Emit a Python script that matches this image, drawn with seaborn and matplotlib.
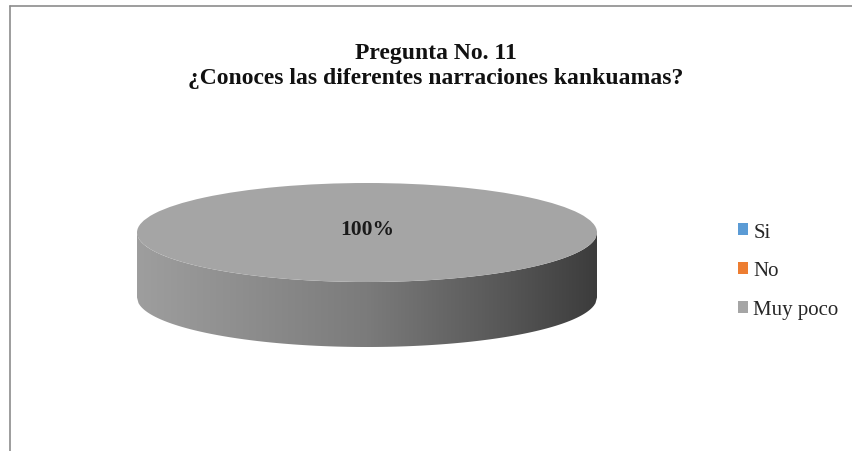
import numpy as np
import seaborn as sns
import matplotlib.pyplot as plt
from matplotlib.colors import LinearSegmentedColormap
from matplotlib.patches import Polygon
from matplotlib.lines import Line2D

sns.set_style('white')
plt.rcParams['font.family'] = ['Liberation Serif', 'DejaVu Serif']

# datos
respuestas = ['Si', 'No', 'Muy poco']
porcentajes = [0, 0, 100]
colores = ['#5B9BD5', '#ED7D31', '#A5A5A5']
titulo = 'Pregunta No. 11\n¿Conoces las diferentes narraciones kankuamas?'

W, H = 852, 452
fig = plt.figure(figsize=(W / 100, H / 100), dpi=100)

# geometria del "pastel 3D" en pixeles
cx, cy, rx, ry, alto = 367, 233.5, 230, 49.5, 65

# lateral del cilindro (gradiente)
ax_side = fig.add_axes([0, 0, 1, 1])
ax_side.set_xlim(0, W)
ax_side.set_ylim(H, 0)
ax_side.axis('off')
t = np.linspace(-1, 1, 300)
xs = cx + rx * t
y_up = cy + ry * np.sqrt(1 - t ** 2)
poly = np.concatenate([np.column_stack([xs, y_up]),
                       np.column_stack([xs[::-1], y_up[::-1] + alto])])
patch = Polygon(poly, closed=True, facecolor='none', edgecolor='none')
ax_side.add_patch(patch)
cmap = LinearSegmentedColormap.from_list(
    'lado', [(0, '#9e9e9e'), (0.5, '#7b7b7b'), (0.8, '#575757'), (1, '#3c3c3c')])
grad = np.linspace(0, 1, 256)[None, :]
img = ax_side.imshow(grad, cmap=cmap, aspect='auto',
                     extent=[cx - rx, cx + rx, cy + ry + alto, cy], zorder=1)
img.set_clip_path(patch)
ax_side.set_xlim(0, W)
ax_side.set_ylim(H, 0)

# cara superior con pie
ax = fig.add_axes([(cx - rx) / W, (H - cy - ry) / H, 2 * rx / W, 2 * ry / H])
wedges, _, autotexts = ax.pie(
    porcentajes, colors=colores, radius=1, startangle=270,
    autopct=lambda p: f'{p:.0f}%' if p > 0 else '', pctdistance=0.08,
    wedgeprops=dict(linewidth=0, antialiased=True),
    textprops=dict(fontsize=15.5, fontweight='bold', color='#1a1a1a'))
ax.set_aspect('auto')
ax.set_xlim(-1, 1)
ax.set_ylim(-1, 1)
ax.axis('off')

fig.text(436 / W, 1 - 66 / H, titulo, ha='center', va='center',
         fontsize=17, fontweight='bold', linespacing=1.22, color='#111111')

fig.legend(wedges, respuestas, loc='center left',
           bbox_to_anchor=(719 / W, 1 - 272 / H), frameon=False,
           fontsize=15, handlelength=0.5, handleheight=0.5,
           handletextpad=0.25, labelspacing=0.95)

# borde del area del grafico
borde = '#8c8c8c'
fig.add_artist(Line2D([9.5 / W, 1], [1 - 7 / H, 1 - 7 / H], color=borde, lw=1.2))
fig.add_artist(Line2D([9.5 / W, 9.5 / W], [0, 1 - 7 / H], color=borde, lw=1.2))

fig.savefig('out.png', dpi=100)
